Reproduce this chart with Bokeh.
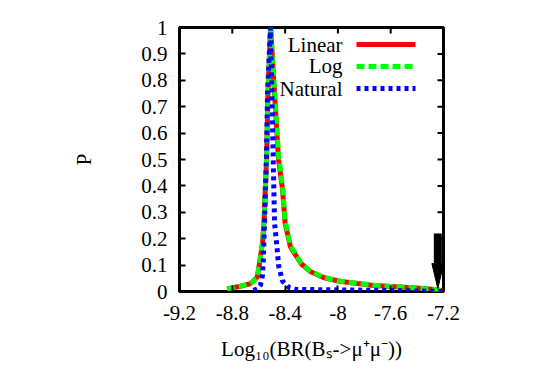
import math
from bokeh.plotting import figure
from bokeh.models import Range1d, FixedTicker, Label
from bokeh.embed import file_html
from bokeh.resources import INLINE

# ---- data ----
x_ticks = [-9.2, -8.8, -8.4, -8.0, -7.6, -7.2]
x_tick_labels = ["-9.2", "-8.8", "-8.4", "-8", "-7.6", "-7.2"]
y_ticks = [0, 0.1, 0.2, 0.3, 0.4, 0.5, 0.6, 0.7, 0.8, 0.9, 1]
y_tick_labels = ["0", "0.1", "0.2", "0.3", "0.4", "0.5", "0.6", "0.7", "0.8", "0.9", "1"]

lin_x = [-8.84, -8.74, -8.66, -8.61, -8.59, -8.57, -8.56, -8.55, -8.54, -8.53, -8.51,
         -8.48, -8.45, -8.42, -8.40, -8.36, -8.28, -8.21, -8.11, -7.98, -7.85, -7.73,
         -7.60, -7.47, -7.35, -7.25, -7.20]
lin_y = [0.010, 0.020, 0.030, 0.055, 0.12, 0.19, 0.26, 0.39, 0.50, 0.75, 1.00,
         0.75, 0.50, 0.39, 0.26, 0.17, 0.106, 0.076, 0.053, 0.038, 0.030, 0.023,
         0.019, 0.015, 0.011, 0.007, 0.002]

log_x = [-8.84, -8.74, -8.66, -8.61, -8.59, -8.57, -8.56, -8.55, -8.54, -8.53, -8.51,
         -8.48, -8.45, -8.42, -8.40, -8.36, -8.28, -8.21, -8.11, -7.98, -7.85, -7.73,
         -7.60, -7.47, -7.35, -7.25, -7.20]
log_y = [0.010, 0.020, 0.030, 0.055, 0.12, 0.19, 0.26, 0.39, 0.50, 0.75, 1.00,
         0.76, 0.52, 0.40, 0.27, 0.175, 0.108, 0.077, 0.054, 0.039, 0.031, 0.024,
         0.019, 0.015, 0.011, 0.007, 0.002]

nat_x = [-8.64, -8.61, -8.586, -8.572, -8.564, -8.556, -8.548, -8.541, -8.533, -8.511,
         -8.50, -8.49, -8.48, -8.46, -8.45, -8.42, -8.37, -8.32, -8.0, -7.6, -7.2]
nat_y = [0.004, 0.010, 0.025, 0.06, 0.13, 0.26, 0.39, 0.52, 0.75, 1.00,
         0.75, 0.50, 0.26, 0.16, 0.10, 0.04, 0.015, 0.008, 0.006, 0.004, 0.0]

series_names = ["Linear", "Log", "Natural"]

# arrow marking the bound
arrow_x = -7.243
arrow_top = 0.22
arrow_tip = 0.011

# ---- figure ----
FONT = "Liberation Serif"
FS = "21px"
X0, X1, Y0, Y1 = -9.2, -7.2, 0, 1

p = figure(width=545, height=382, output_backend="svg", toolbar_location=None,
           x_range=Range1d(X0, X1), y_range=Range1d(Y0, Y1),
           min_border_left=179, min_border_right=102, min_border_top=27,
           min_border_bottom=91)
p.background_fill_color = "white"
p.border_fill_color = "white"
p.outline_line_color = "black"
p.outline_line_width = 3
p.xgrid.visible = False
p.ygrid.visible = False

xa = p.xaxis[0]
ya = p.yaxis[0]
for ax, ticks, labels in ((xa, x_ticks, x_tick_labels), (ya, y_ticks, y_tick_labels)):
    ax.ticker = FixedTicker(ticks=ticks)
    ax.major_label_overrides = {t: l for t, l in zip(ticks, labels)}
    ax.axis_line_color = None
    ax.major_tick_in = 6
    ax.major_tick_out = 0
    ax.major_tick_line_width = 2
    ax.major_tick_line_color = "black"
    ax.minor_tick_line_color = None
    ax.major_label_text_font = FONT
    ax.major_label_text_font_size = FS
    ax.major_label_text_color = "black"
    ax.axis_label_text_font = FONT
    ax.axis_label_text_font_size = FS
    ax.axis_label_text_font_style = "normal"
    ax.axis_label_text_color = "black"

xa.major_label_standoff = 14
ya.major_label_standoff = 12
xa.axis_label = "Log\u2081\u2080(BR(B\u209b->\u03bc\u207a\u03bc\u207b))"
ya.axis_label = "P"
xa.axis_label_standoff = 14
ya.axis_label_standoff = 42

# mirrored inward ticks on the top and right edges (half of each dash is clipped)
p.scatter(x=x_ticks, y=[Y1] * len(x_ticks), marker="dash", size=12,
          angle=math.pi / 2, line_color="black", line_width=2)
p.scatter(x=[X1] * len(y_ticks), y=y_ticks, marker="dash", size=12,
          line_color="black", line_width=2)

# ---- curves ----
p.line(lin_x, lin_y, line_color="#ff0000", line_width=5)
p.line(log_x, log_y, line_color="#00ff00", line_width=5, line_dash="8 4")
p.line(nat_x, nat_y, line_color="#0000ff", line_width=5, line_dash="4 4")

# ---- arrow ----
head_len = 0.095
head_half = 0.045
p.segment(x0=[arrow_x], y0=[arrow_top], x1=[arrow_x], y1=[arrow_tip + head_len],
          line_color="black", line_width=8, line_cap="butt")
p.patch([arrow_x - head_half, arrow_x + head_half, arrow_x],
        [arrow_tip + head_len, arrow_tip + head_len, arrow_tip],
        fill_color="black", line_color="black", line_width=1)

# ---- gnuplot-style key (label then sample) ----
key_text_right = -7.965
key_line_x0 = -7.859
key_line_x1 = -7.412
key_rows = [0.9356, 0.8523, 0.7689]
key_colors = ["#ff0000", "#00ff00", "#0000ff"]
key_dashes = ["solid", "8 4", "4 4"]
for name, yy, col, dash in zip(series_names, key_rows, key_colors, key_dashes):
    p.add_layout(Label(x=key_text_right, y=yy, text=name, text_align="right",
                       text_baseline="middle", text_font=FONT, text_font_size=FS,
                       text_color="black"))
    p.line([key_line_x0, key_line_x1], [yy, yy], line_color=col, line_width=5,
           line_dash=dash)

open("out.html", "w").write(file_html(p, INLINE))
